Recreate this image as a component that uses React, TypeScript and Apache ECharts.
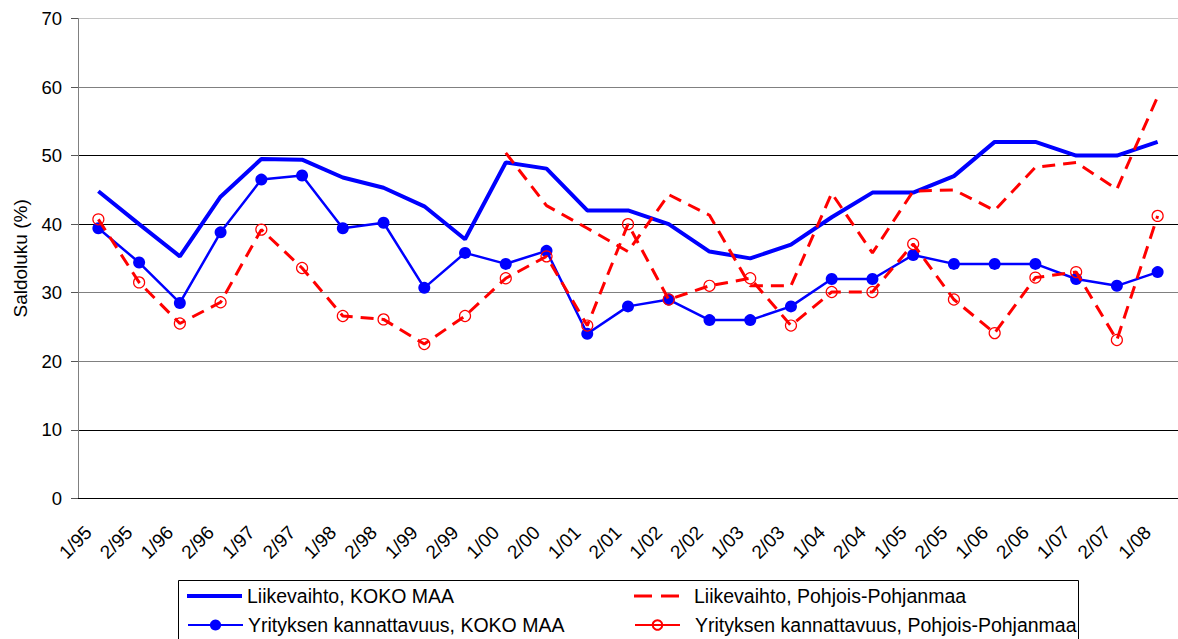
import React, { useEffect, useRef } from "react";
import * as echarts from "echarts";

const categories = [
  "1/95", "2/95", "1/96", "2/96", "1/97", "2/97", "1/98", "2/98", "1/99", "2/99",
  "1/00", "2/00", "1/01", "2/01", "1/02", "2/02", "1/03", "2/03", "1/04", "2/04",
  "1/05", "2/05", "1/06", "2/06", "1/07", "2/07", "1/08",
];

const liikevaihtoKoko = [
  44.8, 40.0, 35.3, 44.0, 49.5, 49.4, 46.8, 45.3, 42.6, 37.8,
  49.0, 48.1, 42.0, 42.0, 40.0, 36.0, 35.0, 37.0, 41.0, 44.6,
  44.6, 47.0, 52.0, 52.0, 50.0, 50.0, 52.0,
];

const kannattavuusKoko = [
  39.4, 34.4, 28.5, 38.8, 46.5, 47.1, 39.4, 40.2, 30.7, 35.8,
  34.2, 36.1, 24.0, 28.0, 29.0, 26.0, 26.0, 28.0, 32.0, 32.0,
  35.5, 34.2, 34.2, 34.2, 32.0, 31.0, 33.0,
];

const liikevaihtoPP: (number | null)[] = [
  null, null, null, null, null, null, null, null, null, null,
  50.4, 42.7, 39.4, 36.0, 44.3, 41.3, 31.0, 31.0, 44.5, 35.8,
  44.8, 45.0, 42.0, 48.3, 49.0, 45.1, 58.6,
];

const kannattavuusPP = [
  40.7, 31.5, 25.5, 28.6, 39.2, 33.6, 26.6, 26.1, 22.5, 26.6,
  32.1, 35.3, 25.2, 40.0, 29.0, 31.0, 32.1, 25.2, 30.1, 30.1,
  37.1, 29.0, 24.1, 32.2, 33.0, 23.1, 41.2,
];

const seriesNames = [
  "Liikevaihto, KOKO MAA",
  "Yrityksen kannattavuus, KOKO MAA",
  "Liikevaihto, Pohjois-Pohjanmaa",
  "Yrityksen kannattavuus, Pohjois-Pohjanmaa",
];

const FONT = "Arial, 'Liberation Sans', sans-serif";

export default function App() {
  const ref = useRef<HTMLDivElement>(null);

  useEffect(() => {
    if (!ref.current) return;
    const chart = echarts.init(ref.current, null, { renderer: "svg" });
    const legendText = { fontFamily: FONT, fontSize: 19.5, color: "#000" };
    const legendBase = {
      padding: 0,
      textStyle: legendText,
    };
    chart.setOption({
      animation: false,
      backgroundColor: "#fff",
      textStyle: { fontFamily: FONT },
      grid: { left: 78, right: 0, top: 18.5, bottom: 140.7, containLabel: false },
      xAxis: {
        type: "category",
        data: categories,
        boundaryGap: true,
        axisLine: { show: true, lineStyle: { color: "#000", width: 1 } },
        axisTick: { show: false },
        axisLabel: {
          rotate: 45,
          interval: 0,
          margin: 21,
          padding: [0, 14, 0, 0],
          fontSize: 19,
          color: "#000",
          fontFamily: FONT,
        },
        splitLine: { show: false },
      },
      yAxis: {
        type: "value",
        min: 0,
        max: 70,
        interval: 10,
        name: "Saldoluku (%)",
        nameLocation: "middle",
        nameGap: 48,
        nameTextStyle: { fontSize: 19, color: "#000", fontFamily: FONT },
        axisLine: { show: true, lineStyle: { color: "#808080", width: 1 } },
        axisTick: { show: true, length: 7, lineStyle: { color: "#555" } },
        axisLabel: { fontSize: 18.5, color: "#000", margin: 16, fontFamily: FONT },
        splitLine: {
          show: true,
          lineStyle: {
            color: ["#000", "#000", "#808080", "#808080", "#000", "#000", "#808080", "#c8c8c8"],
            width: 1,
          },
        },
      },
      legend: [
        {
          ...legendBase,
          data: [{ name: seriesNames[0], icon: "rect" }],
          left: 187,
          top: 586,
          itemWidth: 55,
          itemHeight: 4,
        },
        {
          ...legendBase,
          data: [
            {
              name: seriesNames[2],
              icon: "path://M0,0h18v3h-18z M27,0h18v3h-18z",
            },
          ],
          left: 634,
          top: 586,
          itemWidth: 45,
          itemHeight: 3,
          textStyle: { ...legendText, padding: [0, 0, 0, 10] },
        },
        {
          ...legendBase,
          data: [seriesNames[1]],
          left: 187,
          top: 615,
          itemWidth: 55,
          itemHeight: 14,
        },
        {
          ...legendBase,
          data: [seriesNames[3]],
          left: 634,
          top: 615,
          itemWidth: 45,
          itemHeight: 12,
          lineStyle: { type: "solid" },
          textStyle: { ...legendText, padding: [0, 0, 0, 10] },
        },
      ],
      graphic: [
        {
          type: "rect",
          shape: { x: 178.5, y: 580.5, width: 900, height: 60 },
          style: { fill: "none", stroke: "#000", lineWidth: 1 },
          silent: true,
          z: -1,
        },
      ],
      series: [
        {
          name: seriesNames[0],
          type: "line",
          data: liikevaihtoKoko,
          symbol: "none",
          lineStyle: { color: "#0000ff", width: 4 },
          itemStyle: { color: "#0000ff" },
          z: 2,
        },
        {
          name: seriesNames[1],
          type: "line",
          data: kannattavuusKoko,
          symbol: "circle",
          symbolSize: 12,
          lineStyle: { color: "#0000ff", width: 2.5 },
          itemStyle: { color: "#0000ff" },
          z: 3,
        },
        {
          name: seriesNames[2],
          type: "line",
          data: liikevaihtoPP,
          symbol: "none",
          connectNulls: false,
          lineStyle: { color: "#ff0000", width: 3, type: [13, 8] },
          itemStyle: { color: "#ff0000" },
          z: 4,
        },
        {
          name: seriesNames[3],
          type: "line",
          data: kannattavuusPP,
          symbol: "circle",
          symbolSize: 11,
          lineStyle: { color: "#ff0000", width: 3, type: [13, 8] },
          itemStyle: { color: "rgba(255,255,255,0)", borderColor: "#ff0000", borderWidth: 1.2 },
          z: 5,
        },
      ],
    });
    return () => chart.dispose();
  }, []);

  return (
    <div
      ref={ref}
      style={{ position: "fixed", left: 0, top: 0, width: 1178, height: 639, overflow: "hidden" }}
    />
  );
}
